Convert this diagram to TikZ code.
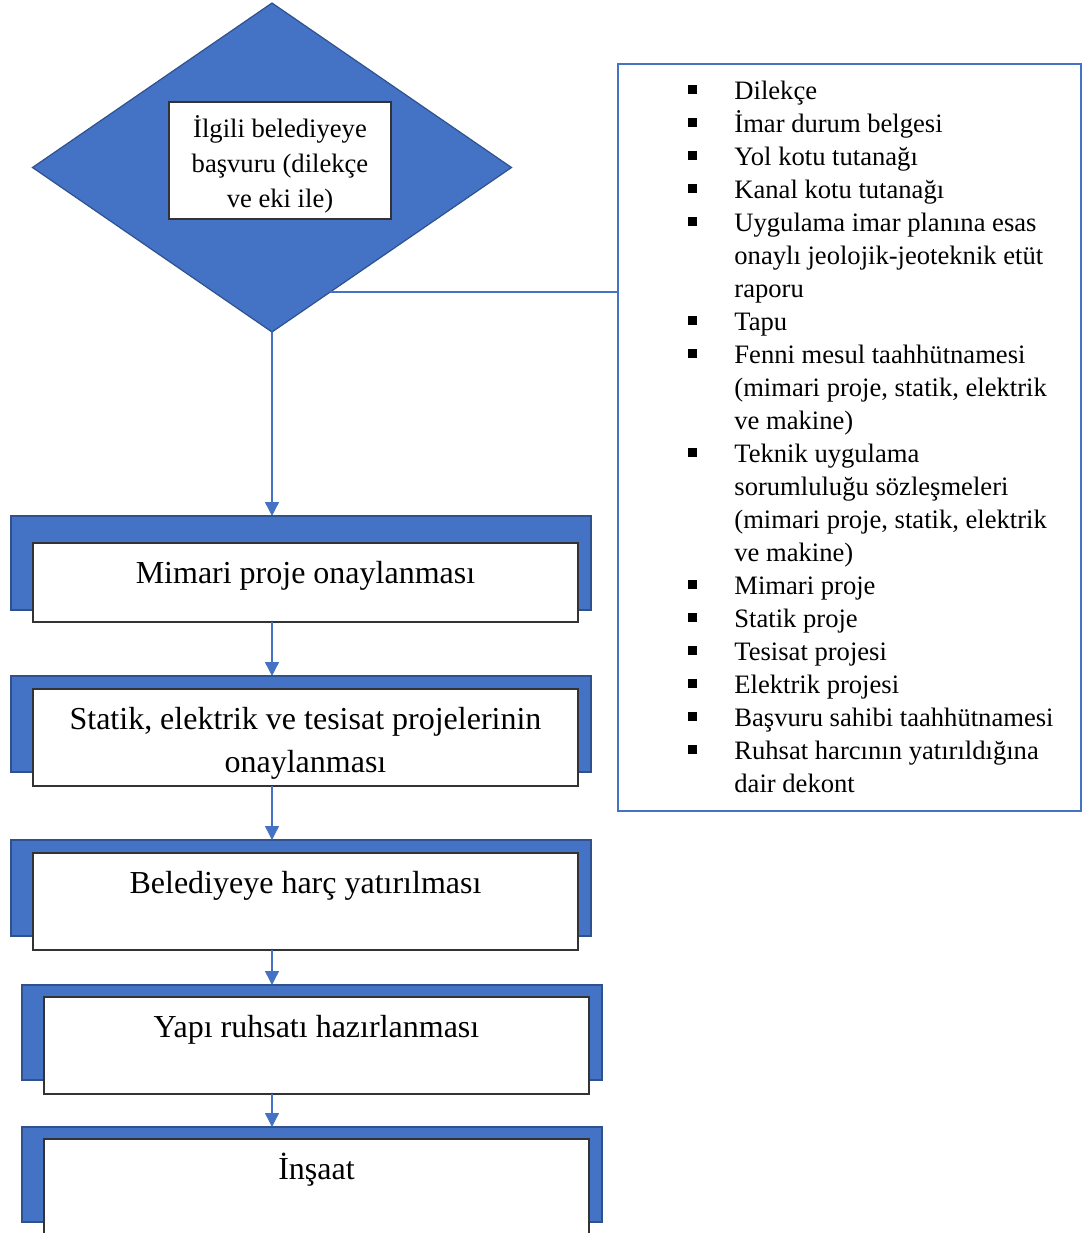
\documentclass[tikz,border=0pt]{standalone}
\usepackage{fontspec}
\setmainfont{Liberation Serif}
\usepackage{tikz}
\usetikzlibrary{calc, arrows.meta, shapes.geometric}
\definecolor{ofisMavi}{HTML}{4472C4}
\definecolor{koyuMavi}{HTML}{2F528F}
\newcommand{\kare}{\rule[2.5pt]{4.5pt}{4.5pt}}
\tikzset{
  mavi/.style={draw=koyuMavi, fill=ofisMavi, line width=0.6pt, inner sep=0, outer sep=0},
  beyaz/.style={draw=black!80, fill=white, line width=0.6pt, inner sep=0, outer sep=0},
  adim/.style={font=\fontsize{16}{21.5}\selectfont, align=flush center, text width=272pt, inner sep=0},
  ok/.style={draw=ofisMavi, line width=0.7pt, -{Triangle[length=7pt,width=7pt]}},
  baglanti/.style={draw=ofisMavi, line width=0.7pt},
}

\begin{document}
\begin{tikzpicture}[x=0.5pt, y=-0.5pt]
      \clip (0,0) rectangle (1088,1233);
      \node (basvuru) [diamond, mavi, minimum width=239.5pt, minimum height=164.5pt] at (272,167.5) {};
      \node (ic) [beyaz, minimum width=111pt, minimum height=58.5pt] at (280,160.5) {};
      \node (icyazi) [align=flush center, inner sep=0, yshift=-2pt,
            font=\fontsize{13.3}{17.5}\selectfont] at (ic.center) {İlgili belediyeye\\başvuru (dilekçe\\ve eki ile)};
      \node (belgeler) [draw=ofisMavi, line width=1pt, minimum width=231.5pt, minimum height=373.5pt,
            anchor=north west, inner sep=0] at (617,63) {};
      \node (maddeler) [anchor=base west, inner sep=0, font=\fontsize{13.3}{16.5}\selectfont] at (688,99) {%
        \begin{tabular}[t]{@{}l@{\hspace{18.5pt}}l@{}}
        \kare & Dilekçe\\
        \kare & İmar durum belgesi\\
        \kare & Yol kotu tutanağı\\
        \kare & Kanal kotu tutanağı\\
        \kare & Uygulama imar planına esas\\
              & onaylı jeolojik-jeoteknik etüt\\
              & raporu\\
        \kare & Tapu\\
        \kare & Fenni mesul taahhütnamesi\\
              & (mimari proje, statik, elektrik\\
              & ve makine)\\
        \kare & Teknik uygulama\\
              & sorumluluğu sözleşmeleri\\
              & (mimari proje, statik, elektrik\\
              & ve makine)\\
        \kare & Mimari proje\\
        \kare & Statik proje\\
        \kare & Tesisat projesi\\
        \kare & Elektrik projesi\\
        \kare & Başvuru sahibi taahhütnamesi\\
        \kare & Ruhsat harcının yatırıldığına\\
              & dair dekont
        \end{tabular}};
      \foreach \ad/\sol/\ust/\alt/\bust/\balt/\metin in {
          1/11/516/610/543/622/{Mimari proje onaylanması},
          2/11/676/772/689/786/{Statik, elektrik ve tesisat projelerinin\\onaylanması},
          3/11/840/936/853/950/{Belediyeye harç yatırılması},
          4/22/985/1080/997/1094/{Yapı ruhsatı hazırlanması},
          5/22/1127/1222/1139/1236/{İnşaat}}
      {
          \node (m\ad) [mavi, anchor=north west, minimum width=290pt,
                minimum height={(\alt-\ust)*0.5pt}] at (\sol,\ust) {};
          \node (b\ad) [beyaz, anchor=north west, minimum width=272.5pt,
                minimum height={(\balt-\bust)*0.5pt}] at (\sol+22,\bust) {};
          \node (t\ad) [adim, anchor=base, yshift=-20pt] at (b\ad.north) {\metin};
      }
      \coordinate (kenar) at (330,292);
      \draw[baglanti] (kenar) -- (kenar -| belgeler.west);
      \draw[ok] (basvuru.south) -- (basvuru.south |- m1.north);
      \foreach \a/\b in {1/2, 2/3, 3/4, 4/5}
          \draw[ok] (basvuru.south |- b\a.south) -- (basvuru.south |- m\b.north);
\end{tikzpicture}
\end{document}
